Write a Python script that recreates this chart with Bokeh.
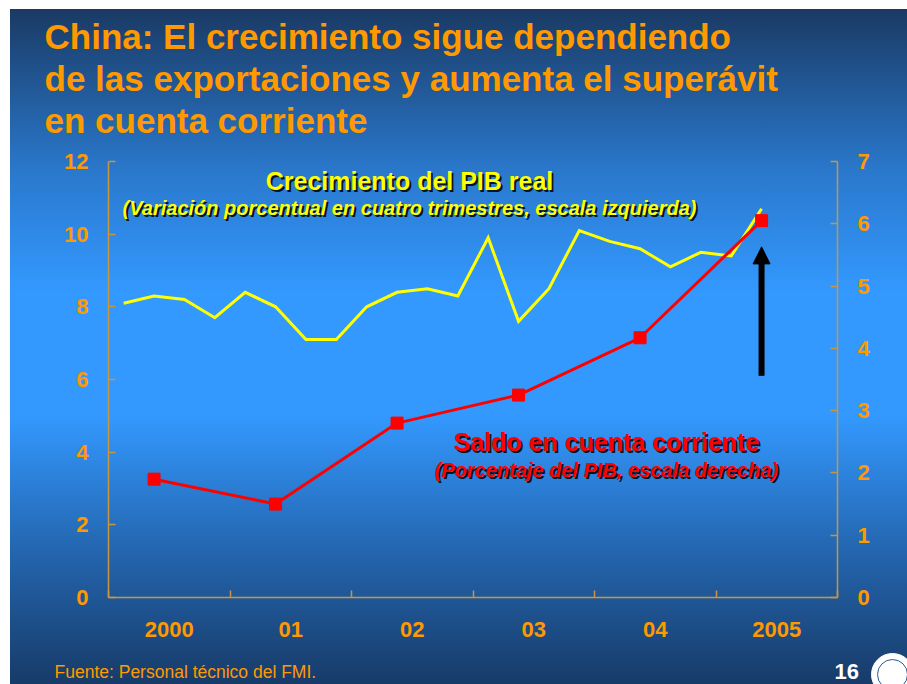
from bokeh.plotting import figure
from bokeh.layouts import column
from bokeh.models import Range1d, LinearAxis, FixedTicker, Label, Arrow, NormalHead
from bokeh.embed import file_html
from bokeh.resources import INLINE

# ---------------- data ----------------
quarters = ["2000Q1", "2000Q2", "2000Q3", "2000Q4",
            "2001Q1", "2001Q2", "2001Q3", "2001Q4",
            "2002Q1", "2002Q2", "2002Q3", "2002Q4",
            "2003Q1", "2003Q2", "2003Q3", "2003Q4",
            "2004Q1", "2004Q2", "2004Q3", "2004Q4",
            "2005Q1", "2005Q2"]
gdp_growth = [8.1, 8.3, 8.2, 7.7,
              8.4, 8.0, 7.1, 7.1,
              8.0, 8.4, 8.5, 8.3,
              9.9, 7.6, 8.5, 10.1,
              9.8, 9.6, 9.1, 9.5,
              9.4, 10.7]
years = [2000, 2001, 2002, 2003, 2004, 2005]
current_account = [1.9, 1.5, 2.8, 3.25, 4.17, 6.05]
year_labels = ["2000", "01", "02", "03", "04", "2005"]
left_ticks = [0, 2, 4, 6, 8, 10, 12]
right_ticks = [0, 1, 2, 3, 4, 5, 6, 7]

title_lines = ["China: El crecimiento sigue dependiendo",
               "de las exportaciones y aumenta el superávit",
               "en cuenta corriente"]
gdp_title = "Crecimiento del PIB real"
gdp_note = "(Variación porcentual en cuatro trimestres, escala izquierda)"
ca_title = "Saldo en cuenta corriente"
ca_note = "(Porcentaje del PIB, escala derecha)"
source = "Fuente: Personal técnico del FMI."
page_no = "16"

# ---------------- styles ----------------
ORANGE = "#ff9900"
AXIS = "#c99640"
YELLOW = "#ffff00"
RED = "#ff0000"
FONT = "Liberation Sans"

W, H = 907, 684
ML, MR, MT, MB = 108, 70, 161, 87
FH = H - MT - MB
X0, X1 = 2000, 2006
Y0, Y1 = 0, 12


def quarter_pos(q):
    return int(q[:4]) + (int(q[-1]) - 0.5) / 4


q_x = [quarter_pos(q) for q in quarters]
ca_x = [y + 0.375 for y in years]  # plotted at mid-year (second quarter)

p = figure(width=W, height=H, x_range=Range1d(X0, X1), y_range=Range1d(Y0, Y1),
           output_backend="svg", toolbar_location=None, frame_align=False,
           min_border_left=ML, min_border_right=MR, min_border_top=MT, min_border_bottom=MB,
           background_fill_color=None, border_fill_color=None, outline_line_color=None)
p.styles = {"background": "linear-gradient(180deg, #1a3a64 0%, #2a78cc 24%, #3399ff 42%, "
                          "#3399ff 60%, #2466b0 80%, #173b68 100%) 10px 9px / 897px 675px no-repeat, #ffffff"}
p.xgrid.visible = False
p.ygrid.visible = False
p.extra_y_ranges = {"ca": Range1d(0, 7)}

# x axis: ticks at year boundaries (minor), labels at mid-year (major)
xa = p.xaxis[0]
xa.ticker = FixedTicker(ticks=[y + 0.5 for y in years], minor_ticks=[X0 + i for i in range(7)])
xa.major_label_overrides = {y + 0.5: lab for y, lab in zip(years, year_labels)}
xa.major_tick_in = 0
xa.major_tick_out = 0
xa.minor_tick_in = 7
xa.minor_tick_out = 0
xa.minor_tick_line_color = AXIS
xa.minor_tick_line_width = 1.5
xa.axis_line_color = AXIS
xa.axis_line_width = 1.5
xa.major_label_standoff = 24
xa.major_label_text_font = FONT
xa.major_label_text_font_style = "bold"
xa.major_label_text_font_size = "22px"
xa.major_label_text_color = ORANGE

ya = p.yaxis[0]
ya.ticker = FixedTicker(ticks=left_ticks)
ra = LinearAxis(y_range_name="ca", ticker=FixedTicker(ticks=right_ticks))
p.add_layout(ra, "right")
for ax in (ya, ra):
    ax.major_tick_in = 7
    ax.major_tick_out = 0
    ax.minor_tick_line_color = None
    ax.major_tick_line_color = AXIS
    ax.major_tick_line_width = 1.5
    ax.axis_line_color = AXIS
    ax.axis_line_width = 1.5
    ax.major_label_standoff = 20
    ax.major_label_text_font = FONT
    ax.major_label_text_font_style = "bold"
    ax.major_label_text_font_size = "22px"
    ax.major_label_text_color = ORANGE

# ---------------- series ----------------
p.line(q_x, gdp_growth, line_color=YELLOW, line_width=3, line_join="miter")
p.line(ca_x, current_account, y_range_name="ca", line_color=RED, line_width=3)
p.scatter(ca_x, current_account, y_range_name="ca", marker="square", size=12,
          fill_color=RED, line_color=RED)

# arrow beside the latest quarter
ARROW_BASE, ARROW_TIP = 6.1, 9.65
head_len = 17 / FH * (Y1 - Y0)
ax_x = q_x[-1]
p.add_layout(Arrow(x_start=ax_x, y_start=ARROW_BASE, x_end=ax_x, y_end=ARROW_TIP - head_len + 0.05,
                   line_width=6, line_color="black", end=None))
p.add_layout(Arrow(x_start=ax_x, y_start=ARROW_TIP - head_len, x_end=ax_x, y_end=ARROW_TIP,
                   line_alpha=0, line_width=1,
                   end=NormalHead(size=17, fill_color="black", line_color="black", line_width=1)))

# ---------------- overlay for slide texts (pixel coordinates, y downwards) ----------------
o = figure(width=W, height=H, x_range=Range1d(0, W), y_range=Range1d(H, 0),
           output_backend="svg", toolbar_location=None, x_axis_type=None, y_axis_type=None,
           min_border=0, frame_align=False, background_fill_color=None, border_fill_color=None,
           outline_line_color=None)
o.xgrid.visible = False
o.ygrid.visible = False
o.styles = {"position": "absolute", "top": "0px", "left": "0px", "z-index": "2"}

BASE_SHIFT = 0.33  # renderer draws "alphabetic" text this many em lower


def text(s, px, py, size, color, style="bold", align="left", shadow=False, font=FONT):
    y = py - BASE_SHIFT * size
    fs = f"{size}px"
    if shadow:
        o.add_layout(Label(x=px, y=y, text=s, x_offset=2, y_offset=-2, text_font=font,
                           text_font_size=fs, text_font_style=style, text_color="black",
                           text_alpha=0.85, text_align=align, text_baseline="alphabetic"))
    o.add_layout(Label(x=px, y=y, text=s, text_font=font, text_font_size=fs,
                       text_font_style=style, text_color=color, text_align=align,
                       text_baseline="alphabetic"))


for i, line in enumerate(title_lines):
    text(line, 44, 48 + 42 * i, 35, ORANGE)

text(gdp_title, 409, 189, 25, YELLOW, shadow=True, align="center")
text(gdp_note, 409, 214, 20, YELLOW, style="bold italic", shadow=True, align="center")
text(ca_title, 606, 450, 25, RED, shadow=True, align="center")
text(ca_note, 606, 476, 20, RED, style="bold italic", shadow=True, align="center")

text(source, 54, 677, 17.5, ORANGE, style="normal")
text(page_no, 834, 678, 22, "white")

# seal (white disc) in the corner
o.scatter([892], [674], marker="circle", size=42, fill_color="white", line_color="white")
o.scatter([892], [674], marker="circle", size=30, fill_color=None, line_color="#2b5a8c",
          line_width=1)

layout = column(p, o)
open("out.html", "w").write(file_html(layout, INLINE))
